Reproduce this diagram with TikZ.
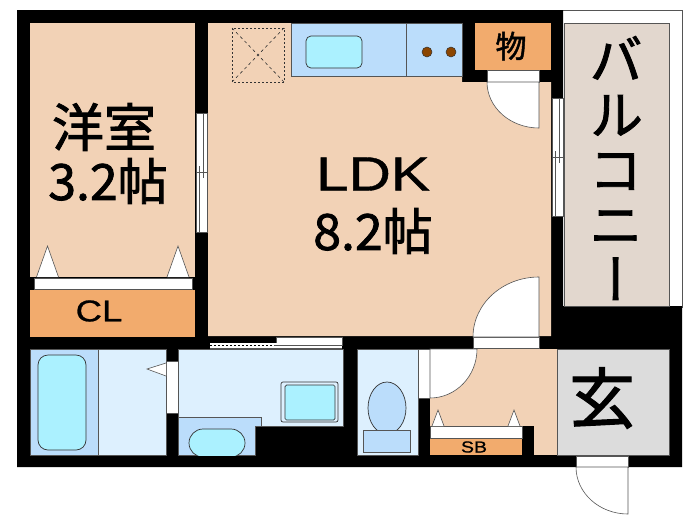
\documentclass[tikz,border=0pt]{standalone}
\usepackage{fontspec}
\setmainfont[FakeBold=1.6]{Noto Sans CJK JP}
\newfontfamily\widefont[FakeStretch=1.22, FakeBold=0.8]{Liberation Sans}
\newfontfamily\vertfont[RawFeature=+vert, FakeBold=1.6]{Noto Sans CJK JP}
\usepackage{tikz}
\usetikzlibrary{positioning}
\definecolor{wallgray}{HTML}{555555}
\definecolor{floorcol}{HTML}{F2D2B6}
\definecolor{storecol}{HTML}{F2AB6D}
\definecolor{wetcol}{HTML}{DDF0FE}
\definecolor{unitcol}{HTML}{BBDDFB}
\definecolor{tubcol}{HTML}{ABF1FF}
\definecolor{balconycol}{HTML}{E2D7CE}
\definecolor{entrycol}{HTML}{DCDCDC}
\definecolor{burnercol}{HTML}{8B4500}

\begin{document}
\begin{tikzpicture}
		[x=1pt, y=-1pt,
		floorplate/.style={fill=floorcol},
		store/.style={fill=storecol},
		wet/.style={draw=wallgray, line width=0.5pt, fill=wetcol},
		unit/.style={draw=wallgray, line width=0.6pt, fill=unitcol},
		tub/.style={draw=black!80, line width=0.7pt, fill=tubcol},
		opening/.style={draw=wallgray, line width=0.6pt, fill=white},
		hairline/.style={draw=wallgray, line width=0.5pt},
		label/.style={inner sep=0pt, black}]
		\useasboundingbox (0,0) rectangle (700,525);

		\fill[white] (0,0) rectangle (700,525);
		\draw[wallgray, line width=0.7pt, fill=white] (563,10) -- (682,10) -- (682,307) -- (563,307);
		\fill[black] (17,10) -- (563,10) -- (563,306) -- (682,306) -- (682,467) -- (17,467) -- cycle;

		\draw[hairline, fill=balconycol] (564,23) rectangle (669,306);

		\fill[floorplate] (30,23) rectangle (195,277);
		\fill[store] (30,290) rectangle (195,337);
		\draw[opening] (34,278) rectangle (192,289);
		\foreach \tipx in {47.5,178}
			\draw[opening] (\tipx-11,277) -- (\tipx,246) -- (\tipx+11,277);

		\fill[floorplate] (208,23) -- (462,23) -- (462,82) -- (551,82) -- (551,336) -- (208,336) -- cycle;
		\draw[unit] (291,23) rectangle (406,76);
		\draw[unit] (406,23) rectangle (462,76);
		\draw[tub, rounded corners=5pt] (306,36) rectangle (362,68);
		\foreach \burnerx in {427,451}
			\draw[black!80, line width=0.5pt, fill=burnercol] (\burnerx,52) circle (5);
		\draw[black!80, dashed, line width=0.8pt, dash pattern=on 2pt off 2pt] (232,28) rectangle (284,82);
		\draw[black!80, dashed, line width=0.6pt, dash pattern=on 3pt off 3pt] (232,28) -- (284,82) (284,28) -- (232,82);

		\fill[store] (475,23) rectangle (551,70);
		\draw[opening] (487,70) rectangle (539,82);
		\draw[opening] (539,82) -- (487,82) arc[start angle=180, end angle=90, x radius=52, y radius=46] -- cycle;

		\draw[opening] (196,113) rectangle (207,232);
		\draw[hairline] (196,172) -- (207,172);
		\draw[hairline] (203,113) -- (203,178) (199.5,166) -- (199.5,232);
		\draw[opening] (552,98) rectangle (563,216);
		\draw[hairline] (552,157) -- (563,157);
		\draw[hairline] (559,98) -- (559,163) (555.5,151) -- (555.5,216);

		\draw[opening] (276,337) rectangle (342,345);
		\fill[white] (210,343) rectangle (342,348);
		\draw[hairline] (210,348) -- (342,348) (274,345) -- (342,345);
		\draw[black, line width=0.8pt, dash pattern=on 2pt off 2pt] (210,345) -- (274,345);

		\draw[opening] (473,337) rectangle (539,348);
		\draw[opening] (539,337) -- (473,337) arc[start angle=180, end angle=270, x radius=66, y radius=60] -- cycle;

		\draw[wet] (98,349) rectangle (166,455);
		\draw[unit] (30,349) rectangle (98,455);
		\draw[tub, rounded corners=10pt] (38,355) rectangle (86,450);
		\draw[opening] (166,361) rectangle (178,413);
		\draw[opening] (166,363) -- (147,369) -- (166,376);

		\draw[wet] (178,349) -- (343,349) -- (343,426) -- (255,426) -- (255,455) -- (178,455) -- cycle;
		\draw[unit] (178,455) -- (178,417) -- (261,417) -- (261,426) -- (255,426) -- (255,455) -- cycle;
		\begin{scope}
			\clip (178,417) rectangle (255,455);
			\draw[tub] (203,429) -- (231,429) arc[start angle=-90, end angle=90, radius=14] -- (203,457) arc[start angle=90, end angle=270, radius=14] -- cycle;
		\end{scope}
		\draw[draw=black!80, line width=0.7pt, fill=wetcol, rounded corners=2pt] (281,382) rectangle (338,422);
		\draw[tub, rounded corners=1.5pt] (285,385) rectangle (335,420);

		\draw[wet] (357,349) rectangle (418,455);
		\draw[black!80, line width=0.7pt, fill=unitcol] (387,408) ellipse (19 and 26);
		\draw[unit] (363,430) rectangle (410,452);
		\draw[opening] (418,349) rectangle (430,398);

		\fill[floorplate] (430,349) rectangle (557,455);
		\fill[black] (522,426) rectangle (534,455);
		\draw[opening] (430,349) -- (477,349) arc[start angle=0, end angle=90, x radius=47, y radius=49] -- cycle;
		\fill[store] (430,438) rectangle (522,455);
		\draw[opening] (430,426) rectangle (522,438);
		\foreach \tipx in {438,514}
			\draw[opening] (\tipx-6,426) -- (\tipx,410) -- (\tipx+6,426);

		\draw[hairline, fill=entrycol] (557,349) rectangle (669,455);
		\draw[opening] (576,456) rectangle (628,467);
		\draw[opening] (628,467) -- (576,467) arc[start angle=180, end angle=90, x radius=52, y radius=47] -- cycle;

		\node[label, font=\fontsize{52}{52}\selectfont] (yoshitsu) at (104,127) {洋室};
		\node[label, font=\fontsize{50}{50}\selectfont] (yoshitsusize) at (108,181) {3.2帖};
		\node[label, font=\widefont\fontsize{48}{48}\selectfont] (ldk) at (373,174) {LDK};
		\node[label, font=\fontsize{50}{50}\selectfont] (ldksize) at (373,231) {8.2帖};
		\node[label, font=\fontsize{31}{31}\selectfont] (mono) at (511,46) {物};
		\node[label, font=\widefont\fontsize{30}{30}\selectfont] (cl) at (99,311) {CL};
		\node[label, font=\widefont\fontsize{16}{16}\selectfont] (sb) at (474,447) {SB};
		\node[label, font=\fontsize{66}{66}\selectfont] (genkan) at (602,398) {玄};
		\node[label, font=\vertfont\fontsize{54}{55}\selectfont, align=center] (balcony) at (616,168) {バ\\ル\\コ\\ニ\\ー};
	\end{tikzpicture}
\end{document}
